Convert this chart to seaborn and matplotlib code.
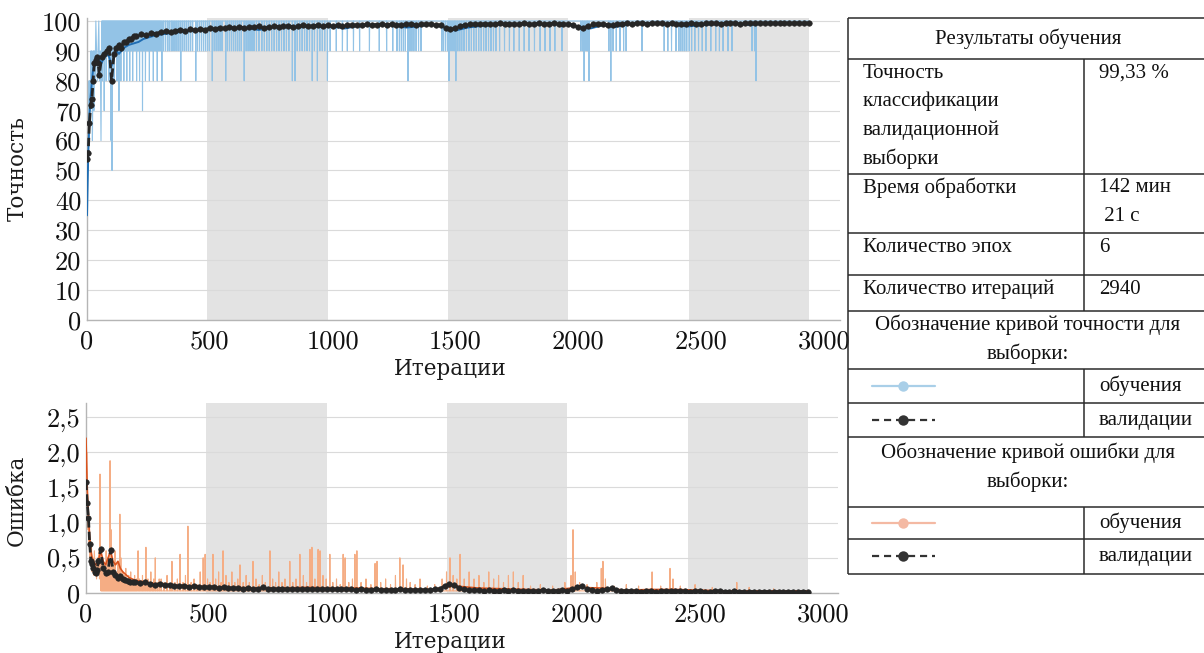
import matplotlib
matplotlib.use("Agg")
import matplotlib.pyplot as plt
import seaborn as sns
import numpy as np

# ---------------- data ----------------
epoch_bounds = [0, 490, 980, 1470, 1960, 2450, 2940]
x_ticks = [0, 500, 1000, 1500, 2000, 2500, 3000]
acc_ticks = [0, 10, 20, 30, 40, 50, 60, 70, 80, 90, 100]
loss_ticks = [0, 0.5, 1.0, 1.5, 2.0, 2.5]
loss_tick_labels = ["0", "0,5", "1,0", "1,5", "2,0", "2,5"]

# raw minibatch training accuracy: early part + dips below 100
train_acc_early_iter = [0, 1, 2, 3, 4, 5, 6, 7, 8, 9, 10, 12, 14, 16, 18, 20, 22, 24, 26, 28, 30,
                        33, 36, 39, 42, 45, 48, 51, 54, 57, 60]
train_acc_early = [10, 40, 50, 60, 50, 70, 60, 70, 80, 60, 70, 80, 70, 90, 80, 90, 60, 80, 90, 70, 90,
                   80, 100, 90, 80, 90, 100, 80, 90, 60, 100]
train_acc_base = 100
train_dip_iter = [62, 66, 70, 74, 78, 82, 86, 90, 94, 98, 102, 106, 110, 114, 118, 122, 126, 130, 134, 138,
                  142, 146, 150, 154, 158, 162, 166, 170, 174, 178, 182, 186, 190, 194, 198, 202, 206, 210,
                  214, 218, 222, 226, 230, 234, 238, 242, 246, 250, 254, 258, 262, 266, 270, 274, 278, 282,
                  286, 290, 294, 298,
                  305, 312, 320, 328, 335, 343, 350, 358, 366, 374, 382, 390, 398, 406, 414, 422, 430, 443,
                  450, 458, 466, 474, 482, 490, 498, 510, 518, 526, 534, 542, 550, 565, 572, 580, 588, 596,
                  604, 612, 620, 628, 640, 648, 656, 664, 672, 680, 690, 700, 712, 722, 732, 742, 752, 762,
                  772, 782, 792, 802, 812, 822, 836, 847, 856, 866, 876, 886, 896, 906, 917, 926, 938, 948,
                  958, 968, 979, 990,
                  1015, 1040, 1060, 1085, 1110, 1150, 1190, 1220, 1245, 1262,
                  1272, 1280, 1288, 1296, 1307, 1315, 1323, 1331, 1340, 1350, 1360,
                  1445, 1452, 1460, 1468, 1474, 1482, 1490, 1496, 1502, 1510, 1518, 1526, 1535, 1545, 1555,
                  1565, 1575, 1585, 1595, 1605, 1615, 1625, 1635, 1645, 1655, 1665,
                  1680, 1700, 1720, 1738, 1760, 1780, 1800, 1822, 1845, 1865, 1885, 1905, 1934,
                  2011, 2018, 2024, 2032, 2038, 2044, 2125, 2133, 2142, 2155, 2170, 2185, 2195, 2260,
                  2350, 2365, 2380, 2398, 2410, 2418, 2426, 2434, 2442, 2452, 2462, 2475, 2490, 2505, 2520,
                  2540, 2560, 2575, 2590, 2610, 2626, 2708, 2718, 2724]
train_dip_acc = [80, 90, 70, 90, 80, 90, 90, 80, 90, 60, 50, 90, 80, 90, 90, 80, 90, 70, 90, 80,
                 90, 90, 80, 90, 90, 80, 90, 90, 80, 90, 90, 80, 90, 90, 90, 80, 90, 90,
                 80, 90, 90, 70, 90, 90, 80, 90, 90, 90, 80, 90, 90, 90, 80, 90, 90, 90,
                 80, 90, 90, 90,
                 80, 90, 90, 90, 90, 90, 90, 90, 90, 90, 80, 90, 90, 90, 90, 90, 90, 80,
                 90, 90, 90, 90, 90, 90, 90, 80, 90, 90, 90, 90, 90, 80, 90, 90, 90, 90,
                 90, 90, 90, 90, 80, 90, 90, 90, 90, 90, 90, 90, 90, 90, 90, 90, 90, 90,
                 90, 90, 90, 90, 90, 90, 80, 80, 90, 90, 90, 90, 90, 90, 80, 90, 80, 90,
                 90, 90, 80, 90,
                 90, 90, 90, 90, 90, 90, 90, 90, 90, 90,
                 90, 90, 90, 90, 80, 90, 90, 90, 90, 90, 90,
                 90, 90, 90, 90, 80, 90, 90, 90, 80, 90, 90, 90, 90, 90, 90,
                 90, 90, 90, 90, 90, 90, 90, 90, 90, 90, 90,
                 90, 90, 90, 90, 90, 90, 90, 90, 90, 90, 90, 90, 90,
                 90, 90, 80, 90, 90, 80, 90, 80, 90, 90, 90, 90, 90, 90,
                 90, 90, 90, 90, 90, 90, 90, 90, 90, 90, 90, 90, 90, 90, 90,
                 90, 90, 90, 90, 90, 90, 90, 90, 80]

# smoothed training accuracy
smooth_acc_iter = [0, 5, 10, 15, 20, 25, 30, 35, 40, 50, 60, 70, 80, 90, 100, 110, 120, 130, 140, 150,
                   170, 190, 210, 230, 250, 270, 300,
                   350, 400, 450, 500, 550, 600, 650, 700, 750, 800, 850, 900, 950, 1000, 1050, 1100,
                   1150, 1200, 1250, 1300, 1350, 1400, 1450, 1500, 1550, 1600, 1650, 1700, 1750, 1800,
                   1850, 1900, 1950, 2000, 2050, 2100, 2150, 2200, 2250, 2300, 2350, 2400, 2450, 2500,
                   2550, 2600, 2650, 2700, 2750, 2800, 2850, 2900, 2940]
smooth_acc = [35, 55, 68, 75, 80, 84, 86, 87, 88, 87, 86, 88, 89, 88, 85, 88, 90, 89, 90, 91,
              92, 92.5, 93, 94, 94.5, 95, 95.5,
              96, 96.5, 96.8, 97, 97.3, 97.5, 97.6, 97.0, 97.8, 98, 97.8, 98.1, 98, 98.2, 97.5, 98.3,
              98.5, 98.6, 98.5, 97.8, 98.2, 98.8, 98.0, 96.8, 97.8, 98.3, 98.6, 98.7, 98.8, 98.7,
              98.8, 98.9, 99, 98.2, 97.5, 98.6, 98.0, 98.8, 99.0, 99.1, 99.0, 98.6, 98.2, 98.6,
              98.8, 98.9, 99.1, 98.6, 99.1, 99.2, 99.3, 99.3, 99.3]

# validation (every 5, 10, then 20 iterations)
val_iter = list(range(0, 51, 5)) + list(range(60, 200, 10)) + list(range(200, 2941, 20))
val_acc = [54, 56, 66, 72, 74, 80, 86, 87, 88, 86, 82,
           88, 89, 90, 91, 80, 89, 91, 92, 91, 93, 93, 94, 94, 95,
           95.0, 95.5, 95.2, 96.0, 95.8, 96.3, 96.5, 96.2, 96.8, 97.0,
           96.8, 97.2, 97.0, 97.4, 97.1, 97.6, 97.3, 97.8, 97.5, 97.9,
           97.7, 98.0, 97.8, 98.1, 97.9, 98.2, 97.6, 98.0, 98.3, 98.1,
           98.2, 98.4, 98.0, 98.3, 98.5, 98.2, 98.4, 98.6, 98.3, 98.5,
           98.4, 98.6, 98.2, 98.7, 98.5, 98.8, 98.6, 98.9, 98.7, 98.8,
           98.9, 98.7, 99.0, 98.8, 98.6, 98.9, 99.0, 98.8, 99.1, 98.9,
           99.0, 98.8, 98.6, 97.8, 97.2, 97.6, 98.3, 98.7, 99.0, 98.9,
           99.0, 99.1, 98.9, 99.0, 99.2, 99.0, 99.1, 98.9, 99.1, 99.2,
           99.0, 99.1, 99.2, 99.0, 99.1, 99.2, 99.0, 98.9, 99.1, 98.6,
           98.0, 97.6, 98.4, 98.9, 99.1, 99.0, 98.8, 98.5, 98.9, 99.1,
           99.2, 99.1, 99.2, 99.3, 99.1, 99.2, 99.3, 99.2, 99.1, 99.2,
           99.0, 98.9, 99.1, 99.2, 99.0, 99.1, 99.2, 99.3, 99.2, 99.1,
           99.2, 99.3, 99.2, 99.1, 99.3, 99.2, 99.3, 99.2, 99.3, 99.3,
           99.3, 99.2, 99.3, 99.3, 99.4, 99.3, 99.3, 99.33]
val_loss = [1.58, 1.28, 1.07, 0.70, 0.45, 0.41, 0.36, 0.30, 0.28, 0.32, 0.45,
            0.62, 0.35, 0.28, 0.30, 0.61, 0.30, 0.25, 0.22, 0.24, 0.20, 0.18, 0.17, 0.16, 0.15,
            0.15, 0.14, 0.15, 0.13, 0.12, 0.13, 0.11, 0.12, 0.10, 0.10,
            0.10, 0.09, 0.10, 0.08, 0.09, 0.08, 0.09, 0.07, 0.08, 0.07,
            0.07, 0.07, 0.06, 0.07, 0.06, 0.06, 0.08, 0.06, 0.06, 0.06,
            0.06, 0.05, 0.06, 0.05, 0.05, 0.06, 0.05, 0.05, 0.05, 0.05,
            0.05, 0.05, 0.06, 0.05, 0.05, 0.04, 0.05, 0.04, 0.04, 0.05,
            0.04, 0.04, 0.04, 0.04, 0.05, 0.04, 0.04, 0.04, 0.04, 0.04,
            0.04, 0.05, 0.06, 0.10, 0.13, 0.11, 0.07, 0.05, 0.04, 0.04,
            0.04, 0.03, 0.04, 0.03, 0.03, 0.04, 0.03, 0.04, 0.03, 0.03,
            0.03, 0.03, 0.03, 0.04, 0.03, 0.03, 0.03, 0.04, 0.03, 0.06,
            0.09, 0.10, 0.06, 0.04, 0.03, 0.04, 0.05, 0.07, 0.04, 0.03,
            0.03, 0.03, 0.03, 0.02, 0.03, 0.03, 0.02, 0.03, 0.03, 0.03,
            0.03, 0.03, 0.03, 0.02, 0.03, 0.03, 0.02, 0.02, 0.03, 0.03,
            0.02, 0.02, 0.03, 0.02, 0.02, 0.02, 0.02, 0.02, 0.02, 0.02,
            0.02, 0.02, 0.02, 0.02, 0.02, 0.02, 0.02, 0.02]

# raw minibatch training loss: early part + spikes above base
train_loss_early_iter = [0, 1, 2, 3, 4, 5, 6, 8, 10, 12, 14, 16, 18, 20, 22, 25, 28, 31, 34, 37, 40,
                         43, 46, 49, 52, 55, 57, 59]
train_loss_early = [2.65, 2.3, 1.9, 2.0, 1.5, 1.2, 1.4, 0.9, 1.1, 0.7, 0.8, 0.5, 0.6, 0.4, 0.7, 0.3, 0.5,
                    0.25, 0.6, 0.3, 0.4, 0.2, 0.5, 0.3, 0.6, 0.2, 1.69, 0.3]
train_loss_base = 0.03
train_spike_iter = [62, 66, 70, 74, 78, 82, 86, 90, 94, 98, 102, 106, 110, 114, 118, 122, 126, 130, 134,
                    138, 142, 146, 150, 154, 158, 162, 166, 170, 174, 178, 182, 186, 190, 194, 198, 202,
                    206, 212, 218, 224, 230, 236, 244, 252, 258, 264, 270, 276, 282, 290, 298,
                    306, 318, 330, 342, 350, 362, 372, 383, 395, 405, 415, 428, 440, 452, 465, 477, 485,
                    495, 505, 517, 528, 540, 550, 558, 570, 582, 594, 606, 618, 627, 640, 652, 665, 680,
                    692, 705, 718, 730, 749, 760, 772, 785, 798, 810, 830, 842, 855, 871, 885, 898, 912,
                    920, 932, 945, 953, 965, 978, 993,
                    1005, 1020, 1035, 1047, 1055, 1070, 1085, 1095, 1103, 1120, 1140, 1160, 1177, 1185,
                    1200, 1220, 1240, 1260, 1278, 1291, 1305, 1320, 1340, 1360, 1390, 1420, 1450, 1468,
                    1482, 1495, 1510, 1523, 1540, 1560, 1580, 1600, 1620, 1640, 1660, 1680, 1700, 1720,
                    1740, 1760, 1780, 1810, 1850, 1900, 1950, 1975, 1983, 1992, 2010, 2040, 2080, 2098,
                    2105, 2115, 2150, 2200, 2250, 2305, 2340, 2378, 2390, 2420, 2480, 2550, 2650, 2700,
                    2800]
train_spike_loss = [0.3, 0.5, 0.25, 0.4, 0.3, 0.6, 0.3, 0.5, 0.4, 1.88, 0.9, 0.35, 0.4, 0.3, 0.6, 0.25,
                    0.3, 0.45, 0.3, 1.12, 0.5, 0.2, 0.3, 0.2, 0.25, 0.35, 0.2, 0.15, 0.25, 0.2, 0.3, 0.15,
                    0.2, 0.15, 0.25, 0.15, 0.2, 0.6, 0.2, 0.15, 0.25, 0.15, 0.65, 0.2, 0.15, 0.3, 0.15,
                    0.2, 0.5, 0.15, 0.2,
                    0.2, 0.15, 0.25, 0.12, 0.45, 0.15, 0.2, 0.55, 0.15, 0.25, 0.95, 0.15, 0.2, 0.12, 0.3,
                    0.5, 0.55, 0.2, 0.15, 0.55, 0.2, 0.3, 0.15, 0.6, 0.25, 0.15, 0.3, 0.15, 0.2, 0.4, 0.15,
                    0.25, 0.15, 0.45, 0.2, 0.12, 0.25, 0.15, 0.6, 0.2, 0.15, 0.3, 0.15, 0.2, 0.45, 0.15,
                    0.2, 0.55, 0.25, 0.15, 0.62, 0.65, 0.2, 0.62, 0.6, 0.25, 0.2, 0.55,
                    0.15, 0.2, 0.12, 0.55, 0.5, 0.15, 0.2, 0.55, 0.6, 0.15, 0.2, 0.12, 0.42, 0.45,
                    0.15, 0.2, 0.12, 0.25, 0.5, 0.4, 0.2, 0.15, 0.12, 0.2, 0.1, 0.12, 0.2, 0.3,
                    0.5, 0.25, 0.2, 0.55, 0.2, 0.3, 0.2, 0.25, 0.15, 0.3, 0.2, 0.25, 0.15, 0.25,
                    0.3, 0.15, 0.25, 0.1, 0.12, 0.1, 0.15, 0.25, 0.9, 0.3, 0.15, 0.12, 0.15, 0.35,
                    0.45, 0.2, 0.1, 0.12, 0.1, 0.3, 0.1, 0.35, 0.2, 0.1, 0.12, 0.08, 0.15, 0.08,
                    0.06]

smooth_loss_iter = [0, 5, 10, 15, 20, 25, 30, 40, 50, 60, 70, 80, 90, 100, 110, 120, 130, 140, 150, 175,
                    200, 250, 300, 350, 400, 450, 500, 600, 700, 800, 900, 1000, 1100, 1200, 1300, 1400,
                    1500, 1600, 1700, 1800, 1900, 2000, 2100, 2200, 2300, 2400, 2500, 2600, 2700, 2800,
                    2940]
smooth_loss = [2.2, 1.5, 1.1, 0.8, 0.6, 0.5, 0.45, 0.4, 0.45, 0.6, 0.45, 0.4, 0.5, 0.6, 0.45, 0.4, 0.45,
               0.35, 0.3, 0.22, 0.18, 0.15, 0.12, 0.12, 0.1, 0.1, 0.09, 0.08, 0.07, 0.07, 0.08, 0.07, 0.07,
               0.06, 0.06, 0.05, 0.1, 0.07, 0.06, 0.05, 0.04, 0.08, 0.07, 0.04, 0.05, 0.05, 0.04, 0.03,
               0.03, 0.03, 0.03]

# table content
table_header = "Результаты обучения"
table_rows_left = [["Точность", "классификации", "валидационной", "выборки"],
                   ["Время обработки"], ["Количество эпох"], ["Количество итераций"]]
table_rows_right = [["99,33 %"], ["142 мин", " 21 с"], ["6"], ["2940"]]
acc_section = ["Обозначение кривой точности для", "выборки:"]
loss_section = ["Обозначение кривой ошибки для", "выборки:"]
legend_labels = ["обучения", "валидации"]


def spike_series(early_x, early_y, sx, sy, base, end):
    xs = list(early_x)
    ys = list(early_y)
    for i, v in zip(sx, sy):
        xs += [i - 1, i, i + 1]
        ys += [base, v, base]
    xs.append(end)
    ys.append(base)
    return np.array(xs), np.array(ys)


# ---------------- style ----------------
sns.set_theme(style="white")
plt.rcParams["font.family"] = ["DejaVu Serif"]
plt.rcParams["axes.unicode_minus"] = False

W, H = 1204, 653
fig = plt.figure(figsize=(W / 100, H / 100), dpi=100)
fig.patch.set_facecolor("white")


def px_axes(l, t, r, b):
    return fig.add_axes([l / W, 1 - b / H, (r - l) / W, (b - t) / H])


ax1 = px_axes(87, 18, 840, 320)
ax2 = px_axes(86, 403, 838, 593)

BAND = "#e3e3e3"
GRID = "#dadada"
VAL = "#262626"

for ax in (ax1, ax2):
    for k in range(1, len(epoch_bounds) - 1, 2):
        ax.axvspan(epoch_bounds[k], epoch_bounds[k + 1], color=BAND, lw=0, zorder=0)

val_kw = dict(estimator=None, sort=False, color=VAL, lw=2.0, linestyle=(0, (3, 1.5)), marker="o",
              markersize=4.0, markeredgecolor=VAL, markeredgewidth=0.4, zorder=4)

# accuracy
tx, ty = spike_series(train_acc_early_iter, train_acc_early, train_dip_iter, train_dip_acc,
                      train_acc_base, epoch_bounds[-1])
sns.lineplot(x=tx, y=ty, ax=ax1, estimator=None, sort=False, color="#93c3e6", lw=0.8, zorder=2)
sns.lineplot(x=smooth_acc_iter, y=smooth_acc, ax=ax1, estimator=None, sort=False,
             color="#1f6db3", lw=1.4, zorder=3)
sns.lineplot(x=val_iter, y=val_acc, ax=ax1, **val_kw)

# loss
lx, ly = spike_series(train_loss_early_iter, train_loss_early, train_spike_iter, train_spike_loss,
                      train_loss_base, epoch_bounds[-1])
sns.lineplot(x=lx, y=ly, ax=ax2, estimator=None, sort=False, color="#f5ad84", lw=0.8, zorder=2)
sns.lineplot(x=smooth_loss_iter, y=smooth_loss, ax=ax2, estimator=None, sort=False,
             color="#d9531e", lw=1.2, zorder=3)
sns.lineplot(x=val_iter, y=val_loss, ax=ax2, **val_kw)

ax1.set_xlim(0, 3066)
ax1.set_ylim(0, 101)
ax2.set_xlim(0, 3062)
ax2.set_ylim(0, 2.7)

ax1.set_yticks(acc_ticks)
ax1.set_yticklabels([str(t) for t in acc_ticks])
ax2.set_yticks(loss_ticks)
ax2.set_yticklabels(loss_tick_labels)
for ax in (ax1, ax2):
    ax.set_xticks(x_ticks)
    ax.set_xticklabels([str(t) for t in x_ticks])
    ax.set_axisbelow(True)
    ax.yaxis.grid(True, color=GRID, lw=0.8)
    ax.xaxis.grid(False)
    ax.tick_params(axis="both", direction="in", length=3, width=0.8, color="#9a9a9a",
                   labelsize=19, labelcolor="#111111", labelfontfamily="cmr10")
    ax.tick_params(axis="y", pad=4)
    ax.tick_params(axis="x", pad=7)
    for s in ("top", "right"):
        ax.spines[s].set_visible(False)
    for s in ("left", "bottom"):
        ax.spines[s].set_color("#b5b5b5")
        ax.spines[s].set_linewidth(1.0)
    ax.set_facecolor("white")

lab_kw = dict(fontsize=15.5, color="#1a1a1a")
ax1.set_ylabel("Точность", **lab_kw)
ax1.set_xlabel("Итерации", **lab_kw)
ax2.set_ylabel("Ошибка", **lab_kw)
ax2.set_xlabel("Итерации", **lab_kw)
ax1.yaxis.set_label_coords(-0.078, 0.5)
ax1.xaxis.set_label_coords(0.482, -0.125)
ax2.yaxis.set_label_coords(-0.077, 0.49)
ax2.xaxis.set_label_coords(0.485, -0.20)

# ---------------- table ----------------
tab = fig.add_axes([0, 0, 1, 1], zorder=5)
tab.set_xlim(0, W)
tab.set_ylim(H, 0)
tab.axis("off")
tab.patch.set_alpha(0)

L, C, R = 848, 1084, 1206
row_lines = [18, 59, 174, 233, 275, 311, 369, 403, 437, 507, 539, 574]
LC = "#2b2b2b"
tab.hlines(row_lines, L, R, color=LC, lw=1.1)
tab.vlines(L, row_lines[0], row_lines[-1], color=LC, lw=1.1)
tab.vlines(C, row_lines[1], row_lines[5], color=LC, lw=1.1)
tab.vlines(C, row_lines[6], row_lines[8], color=LC, lw=1.1)
tab.vlines(C, row_lines[9], row_lines[11], color=LC, lw=1.1)

tfont = dict(family="Liberation Serif", fontsize=15, color="#111111", va="center")
mid = 1028
tab.text(mid, 38.5, table_header, ha="center", **tfont)
step = 28.5
for k in range(4):
    top = row_lines[1 + k]
    for j, line in enumerate(table_rows_left[k]):
        tab.text(863, top + 14 + j * step, line, ha="left", **tfont)
    for j, line in enumerate(table_rows_right[k]):
        tab.text(1099, top + 14 + j * step, line, ha="left", **tfont)

for j, line in enumerate(acc_section):
    tab.text(mid, 325 + j * 28.5, line, ha="center", **tfont)
for j, line in enumerate(loss_section):
    tab.text(mid, 453 + j * 29, line, ha="center", **tfont)

legend_rows = [(386, "#a9cfe8", "-", legend_labels[0]),
               (420, "#333333", (0, (3.2, 2.2)), legend_labels[1]),
               (523, "#f4b9a3", "-", legend_labels[0]),
               (556, "#333333", (0, (3.2, 2.2)), legend_labels[1])]
for y, col, ls, lab in legend_rows:
    tab.plot([872, 935], [y, y], color=col, lw=1.6, ls=ls)
    tab.plot([903], [y], marker="o", color=col, markersize=7.5, markeredgewidth=0)
    tab.text(1099, y, lab, ha="left", **tfont)

fig.savefig("out.png", dpi=100, facecolor="white")
